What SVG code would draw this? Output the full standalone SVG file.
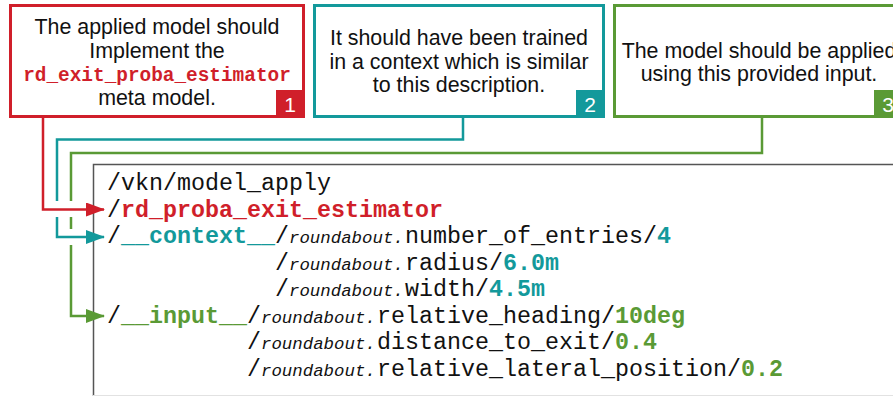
<svg xmlns="http://www.w3.org/2000/svg" width="893" height="396" viewBox="0 0 893 396">
<style>
.box{fill:#fff;stroke-width:3}
.lbl{font-family:"Liberation Sans",Arial,sans-serif;font-size:21.4px;fill:#111;text-anchor:middle}
.badge{font-family:"Liberation Sans",Arial,sans-serif;font-size:21px;fill:#fff;text-anchor:middle}
.code{font-family:"Liberation Mono","Courier New",monospace;font-size:23.33px;fill:#111}
.it{font-style:italic;font-size:17.4px}
.b{font-weight:bold}
.red{fill:#d01f2a}
.teal{fill:#13999b}
.green{fill:#5a9a35}
.conn{fill:none;stroke-width:2.5}
</style>
<defs>
<marker id="aR" markerWidth="19" markerHeight="14" refX="18" refY="7" orient="auto" markerUnits="userSpaceOnUse"><path d="M0,0 L19,7 L0,14 Z" fill="#d01f2a"/></marker>
<marker id="aT" markerWidth="19" markerHeight="14" refX="18" refY="7" orient="auto" markerUnits="userSpaceOnUse"><path d="M0,0 L19,7 L0,14 Z" fill="#13999b"/></marker>
<marker id="aG" markerWidth="19" markerHeight="14" refX="18" refY="7" orient="auto" markerUnits="userSpaceOnUse"><path d="M0,0 L19,7 L0,14 Z" fill="#5a9a35"/></marker>
</defs>
<rect width="893" height="396" fill="#fff"/>

<g id="code-block">
<path d="M93.5,396 V164.5 H893" fill="none" stroke="#555" stroke-width="1.5"/>
<line x1="93" y1="395.5" x2="893" y2="395.5" stroke="#e2e2e2" stroke-width="1"/>
<text class="code" y="190"><tspan x="107">/vkn/model_apply</tspan></text>
<text class="code" y="217"><tspan x="107">/</tspan><tspan class="b red" x="121">rd_proba_exit_estimator</tspan></text>
<text class="code" y="243"><tspan x="107">/</tspan><tspan class="b teal" x="121">__context__</tspan><tspan x="275">/</tspan><tspan class="it" x="289">roundabout.</tspan><tspan x="405">number_of_entries/</tspan><tspan class="b teal" x="657">4</tspan></text>
<text class="code" y="269.5"><tspan x="275">/</tspan><tspan class="it" x="289">roundabout.</tspan><tspan x="405">radius/</tspan><tspan class="b teal" x="503">6.0m</tspan></text>
<text class="code" y="296"><tspan x="275">/</tspan><tspan class="it" x="289">roundabout.</tspan><tspan x="405">width/</tspan><tspan class="b teal" x="489">4.5m</tspan></text>
<text class="code" y="322.5"><tspan x="107">/</tspan><tspan class="b green" x="121">__input__</tspan><tspan x="247">/</tspan><tspan class="it" x="261">roundabout.</tspan><tspan x="377">relative_heading/</tspan><tspan class="b green" x="615">10deg</tspan></text>
<text class="code" y="349"><tspan x="247">/</tspan><tspan class="it" x="261">roundabout.</tspan><tspan x="377">distance_to_exit/</tspan><tspan class="b green" x="615">0.4</tspan></text>
<text class="code" y="375.5"><tspan x="247">/</tspan><tspan class="it" x="261">roundabout.</tspan><tspan x="377">relative_lateral_position/</tspan><tspan class="b green" x="741">0.2</tspan></text>
</g>

<g id="connectors">
<path class="conn" stroke="#5a9a35" d="M762,117 V153 H71 V201 M71,217 V229 M71,245 V316 H104" marker-end="url(#aG)"/>
<path class="conn" stroke="#13999b" d="M463,117 V139.5 H57 V201 M57,217 V237 H104" marker-end="url(#aT)"/>
<path class="conn" stroke="#d01f2a" d="M43,117 V209.5 H104" marker-end="url(#aR)"/>
</g>

<g id="note-1">
<rect class="box" x="10.5" y="5.5" width="293" height="111" stroke="#d01f2a"/>
<text class="lbl" x="157" y="34">The applied model should</text>
<text class="lbl" x="157" y="58">Implement the</text>
<text x="157" y="81" text-anchor="middle" font-family="Liberation Mono,monospace" font-size="19.4" font-weight="bold" fill="#d01f2a">rd_exit_proba_estimator</text>
<text class="lbl" x="157" y="105">meta model.</text>
<rect x="276" y="90" width="29" height="28" fill="#d01f2a"/>
<text class="badge" x="290" y="112">1</text>
</g>

<g id="note-2">
<rect class="box" x="314.5" y="5.5" width="289" height="111" stroke="#13999b"/>
<text class="lbl" x="459" y="45">It should have been trained</text>
<text class="lbl" x="459" y="69">in a context which is similar</text>
<text class="lbl" x="459" y="92">to this description.</text>
<rect x="576" y="90" width="29" height="28" fill="#13999b"/>
<text class="badge" x="590" y="112">2</text>
</g>

<g id="note-3">
<rect class="box" x="614.5" y="5.5" width="289" height="111" stroke="#5a9a35"/>
<text class="lbl" x="759" y="58">The model should be applied</text>
<text class="lbl" x="759" y="81">using this provided input.</text>
<rect x="874" y="90" width="30" height="28" fill="#5a9a35"/>
<text class="badge" x="888" y="112">3</text>
</g>
</svg>
